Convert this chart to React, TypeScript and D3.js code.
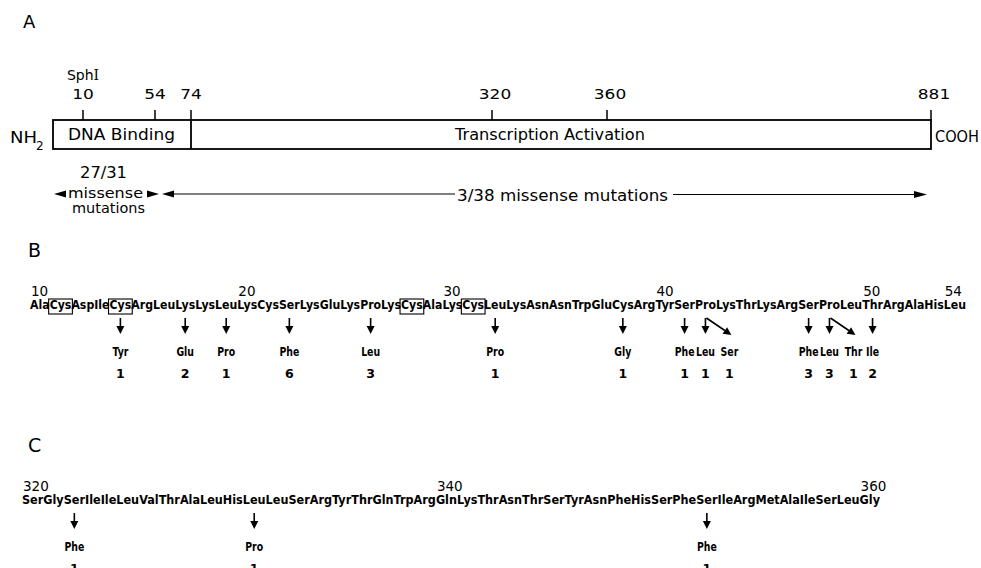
import * as d3 from "d3";
import { useMemo } from "react";

// panel A: protein map
const mapBreaks = [1, 10, 54, 74, 320, 360, 881];
const mapTicks = [10, 54, 74, 320, 360, 881];
const mapDomains = [
  { label: "DNA Binding", start: 1, end: 74 },
  { label: "Transcription Activation", start: 74, end: 881 },
];

// panel B: residues 10-54
const seqBStart = 10;
const seqB = ["Ala", "Cys", "Asp", "Ile", "Cys", "Arg", "Leu", "Lys", "Lys", "Leu", "Lys", "Cys", "Ser", "Lys", "Glu",
  "Lys", "Pro", "Lys", "Cys", "Ala", "Lys", "Cys", "Leu", "Lys", "Asn", "Asn", "Trp", "Glu", "Cys", "Arg", "Tyr", "Ser",
  "Pro", "Lys", "Thr", "Lys", "Arg", "Ser", "Pro", "Leu", "Thr", "Arg", "Ala", "His", "Leu"];
const seqBNumbers = [10, 20, 30, 40, 50, 54];
const seqBBoxed = [11, 14, 28, 31];
const mutB = [
  { pos: 14, to: "Tyr", n: 1, side: false },
  { pos: 17, to: "Glu", n: 2, side: false },
  { pos: 19, to: "Pro", n: 1, side: false },
  { pos: 22, to: "Phe", n: 6, side: false },
  { pos: 26, to: "Leu", n: 3, side: false },
  { pos: 32, to: "Pro", n: 1, side: false },
  { pos: 38, to: "Gly", n: 1, side: false },
  { pos: 41, to: "Phe", n: 1, side: false },
  { pos: 42, to: "Leu", n: 1, side: false },
  { pos: 42, to: "Ser", n: 1, side: true },
  { pos: 47, to: "Phe", n: 3, side: false },
  { pos: 48, to: "Leu", n: 3, side: false },
  { pos: 48, to: "Thr", n: 1, side: true },
  { pos: 50, to: "Ile", n: 2, side: false },
];

// panel C: residues 320-360
const seqCStart = 320;
const seqC = ["Ser", "Gly", "Ser", "Ile", "Ile", "Leu", "Val", "Thr", "Ala", "Leu", "His", "Leu", "Leu", "Ser", "Arg",
  "Tyr", "Thr", "Gln", "Trp", "Arg", "Gln", "Lys", "Thr", "Asn", "Thr", "Ser", "Tyr", "Asn", "Phe", "His", "Ser", "Phe",
  "Ser", "Ile", "Arg", "Met", "Ala", "Ile", "Ser", "Leu", "Gly"];
const seqCNumbers = [320, 340, 360];
const mutC = [
  { pos: 322, to: "Phe", n: 1, side: false },
  { pos: 331, to: "Pro", n: 1, side: false },
  { pos: 352, to: "Phe", n: 1, side: false },
];

const FONT = "'DejaVu Sans', sans-serif";
const SEQ = 11.5;

function makeMeasure() {
  const ctx = document.createElement("canvas").getContext("2d")!;
  return (t: string, font: string) => {
    ctx.font = font;
    return ctx.measureText(t).width;
  };
}

function layoutRow(res: string[], start: number, x0: number, x1: number, measure: any) {
  const w = res.map((r) => measure(r, `bold ${SEQ}px DejaVu Sans`));
  const cum = [0, ...Array.from(d3.cumsum(w))];
  const x = d3.scaleLinear().domain([0, cum[cum.length - 1]]).range([x0, x1]);
  const m = new Map<number, { name: string; x0: number; x1: number }>();
  res.forEach((r, i) => m.set(start + i, { name: r, x0: x(cum[i]), x1: x(cum[i + 1]) }));
  return m;
}

function arrow(x1: number, y1: number, x2: number, y2: number, len = 8, half = 4) {
  const a = Math.atan2(y2 - y1, x2 - x1);
  const bx = x2 - len * Math.cos(a), by = y2 - len * Math.sin(a);
  const px = -Math.sin(a) * half, py = Math.cos(a) * half;
  return {
    line: [x1, y1, bx, by],
    head: `M${x2},${y2}L${bx + px},${by + py}L${bx - px},${by - py}Z`,
  };
}

function Arrow({ x1, y1, x2, y2, len = 8, half = 4, sw = 1.6 }: any) {
  const a = arrow(x1, y1, x2, y2, len, half);
  return (
    <g>
      <line x1={a.line[0]} y1={a.line[1]} x2={a.line[2]} y2={a.line[3]} stroke="#000" strokeWidth={sw} />
      <path d={a.head} fill="#000" />
    </g>
  );
}

function SeqPanel({ row, base, numbers, boxed, muts, measure }: any) {
  const lblFont = `bold 12px DejaVu Sans`;
  return (
    <g>
      {numbers.map((n: number) => (
        <text key={"n" + n} x={row.get(n).x0 + 1} y={base - 13} fontSize={13.5}>{n}</text>
      ))}
      {Array.from(row.entries()).map(([k, r]: any) => (
        <text key={k} x={r.x0} y={base} fontSize={SEQ} fontWeight="bold"
          textLength={r.x1 - r.x0} lengthAdjust="spacingAndGlyphs">{r.name}</text>
      ))}
      {boxed.map((b: number) => {
        const r = row.get(b);
        return <rect key={"b" + b} x={r.x0 - 1} y={base - 10} width={r.x1 - r.x0 + 2} height={15}
          fill="none" stroke="#000" strokeWidth={1.1} />;
      })}
      {muts.map((m: any, i: number) => {
        const r = row.get(m.pos);
        const cx = (r.x0 + r.x1) / 2;
        const lx = m.side ? cx + 24 : cx;
        const tw = measure(m.to, lblFont) * 0.78;
        return (
          <g key={"m" + i}>
            {m.side
              ? <Arrow x1={cx + 1} y1={base + 9} x2={lx + 2} y2={base + 26} />
              : <Arrow x1={cx} y1={base + 9} x2={cx} y2={base + 25} />}
            <text x={lx} y={base + 47} fontSize={12} fontWeight="bold" textAnchor="middle"
              textLength={tw} lengthAdjust="spacingAndGlyphs">{m.to}</text>
            <text x={lx} y={base + 69} fontSize={12.5} fontWeight="bold" textAnchor="middle">{m.n}</text>
          </g>
        );
      })}
    </g>
  );
}

export default function App() {
  const measure = useMemo(makeMeasure, []);
  const x = d3.scaleLinear().domain(mapBreaks).range([53, 83, 155, 191, 492, 607, 931]);
  const rowB = layoutRow(seqB, seqBStart, 30, 966, measure);
  const rowC = layoutRow(seqC, seqCStart, 22, 880, measure);
  const barTop = 120, barBot = 149;

  return (
    <svg width={981} height={568} style={{ position: "absolute", left: 0, top: 0 }} fontFamily={FONT}>
      <rect width={981} height={568} fill="#fff" />
      {/* panel letters */}
      <text x={23} y={28} fontSize={18}>A</text>
      <text x={28} y={257} fontSize={19}>B</text>
      <text x={28} y={452} fontSize={19}>C</text>

      {/* A: protein map */}
      <rect x={x(1)} y={barTop} width={x(881) - x(1)} height={barBot - barTop} fill="none" stroke="#000" strokeWidth={1.8} />
      {mapDomains.slice(1).map((d) => (
        <line key={d.label} x1={x(d.start)} x2={x(d.start)} y1={barTop} y2={barBot} stroke="#000" strokeWidth={1.8} />
      ))}
      {mapTicks.map((t) => (
        <g key={t}>
          <line x1={x(t)} x2={x(t)} y1={barTop - 10} y2={barTop} stroke="#000" strokeWidth={1.5} />
          <text x={x(t) + (t >= 300 ? 3 : 0)} y={99} fontSize={14} textAnchor="middle"
            textLength={String(t).length * 10.8} lengthAdjust="spacingAndGlyphs">{t}</text>
        </g>
      ))}
      <text x={x(10)} y={80} fontSize={14} textAnchor="middle">
        Sph<tspan fontFamily="'DejaVu Serif', serif">I</tspan>
      </text>
      <text x={68} y={140} fontSize={15} textLength={107} lengthAdjust="spacingAndGlyphs">{mapDomains[0].label}</text>
      <text x={455} y={140} fontSize={15} textLength={190} lengthAdjust="spacingAndGlyphs">{mapDomains[1].label}</text>
      <text x={10} y={143} fontSize={15} textLength={27} lengthAdjust="spacingAndGlyphs">NH</text>
      <text x={36} y={150} fontSize={12}>2</text>
      <text x={935} y={142} fontSize={15} textLength={44} lengthAdjust="spacingAndGlyphs">COOH</text>

      {/* mutation summary */}
      <text x={80} y={178} fontSize={16} textLength={47} lengthAdjust="spacingAndGlyphs">27/31</text>
      <text x={68} y={198} fontSize={14} textLength={75} lengthAdjust="spacingAndGlyphs">missense</text>
      <text x={72} y={213} fontSize={14} textLength={73} lengthAdjust="spacingAndGlyphs">mutations</text>
      <path d="M54,194L66,190.5L66,197.5Z" fill="#000" />
      <path d="M159,194L147,190.5L147,197.5Z" fill="#000" />
      <Arrow x1={455} y1={194} x2={162} y2={194} len={12} half={3.5} sw={1.2} />
      <text x={457} y={201} fontSize={16} textLength={211} lengthAdjust="spacingAndGlyphs">3/38 missense mutations</text>
      <Arrow x1={673} y1={194.5} x2={927} y2={194.5} len={13} half={3.5} sw={1.2} />

      {/* B and C: sequences */}
      <SeqPanel row={rowB} base={309} numbers={seqBNumbers} boxed={seqBBoxed} muts={mutB} measure={measure} />
      <SeqPanel row={rowC} base={504} numbers={seqCNumbers} boxed={[]} muts={mutC} measure={measure} />
    </svg>
  );
}
